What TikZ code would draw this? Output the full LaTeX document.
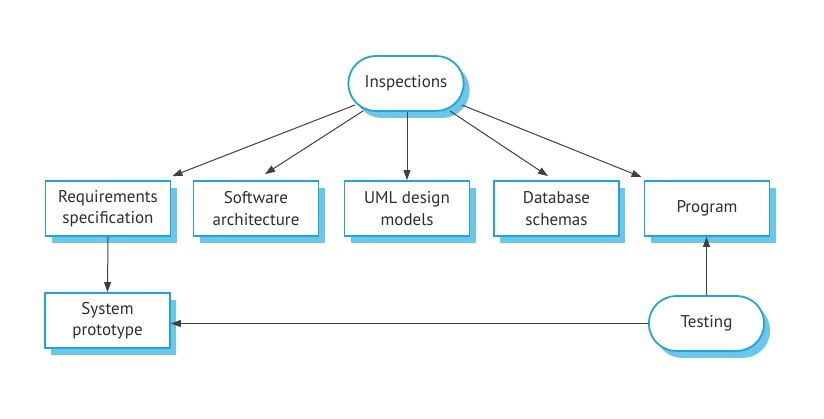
\documentclass[tikz,border=0pt]{standalone}
\usepackage{fontspec}
\setmainfont{PT Sans}
\usetikzlibrary{shapes.misc,shadows,arrows.meta,calc}
\definecolor{edgeblue}{HTML}{1EA5DC}
\definecolor{shadowblue}{HTML}{6CC6E8}
\definecolor{linegray}{HTML}{404040}
\definecolor{textgray}{HTML}{2E2E2E}
\begin{document}
\begin{tikzpicture}[x=1pt,y=-1pt,
  boxshadow/.style={drop shadow={shadow xshift=6pt,shadow yshift=-7pt,fill=shadowblue,opacity=1}},
  artefact/.style={rectangle,draw=edgeblue,line width=1.8pt,fill=white,minimum width=125pt,minimum height=55pt,align=center,font=\fontsize{17}{21.5}\selectfont,text=textgray,boxshadow,inner sep=2pt},
  activity/.style={rounded rectangle,draw=edgeblue,line width=1.8pt,fill=white,minimum width=122pt,minimum height=55pt,align=center,font=\fontsize{17}{21.5}\selectfont,text=textgray,boxshadow},
  conn/.style={draw=linegray,line width=1pt,-{Triangle[length=10pt,width=7pt]}}
]
\useasboundingbox (0,0) rectangle (824,419);
\node[activity] (insp) at (406,83.5) {Inspections};
\node[artefact] (req) at (108,208.5) {Requirements\\specification};
\node[artefact] (soft) at (256,208.5) {Software\\architecture};
\node[artefact] (uml) at (407,208.5) {UML design\\models};
\node[artefact] (db) at (556.5,208.5) {Database\\schemas};
\node[artefact] (prog) at (707,208.5) {Program};
\node[artefact] (sys) at (107.5,320.5) {System\\prototype};
\node[activity] (test) at (706.5,323.5) {Testing};

\draw[conn] ($(insp.center)+(-51,21.5)$) -- ($(req.north east)+(1,-4)$);
\draw[conn] ($(insp.center)+(-43,27.5)$) -- ($(soft.north)+(9,-6)$);
\draw[conn] (insp.south -| uml.north) -- (uml.north);
\draw[conn] ($(insp.center)+(44,27.5)$) -- ($(db.north)+(-8.5,-4)$);
\draw[conn] ($(insp.center)+(56,21.5)$) -- ($(prog.north west)+(-2,-3)$);
\draw[conn] (req.south) -- (sys.north);
\draw[conn] (test.west) -- (test.west -| sys.east);
\draw[conn] (test.north) -- (test.north |- prog.south);
\end{tikzpicture}
\end{document}
